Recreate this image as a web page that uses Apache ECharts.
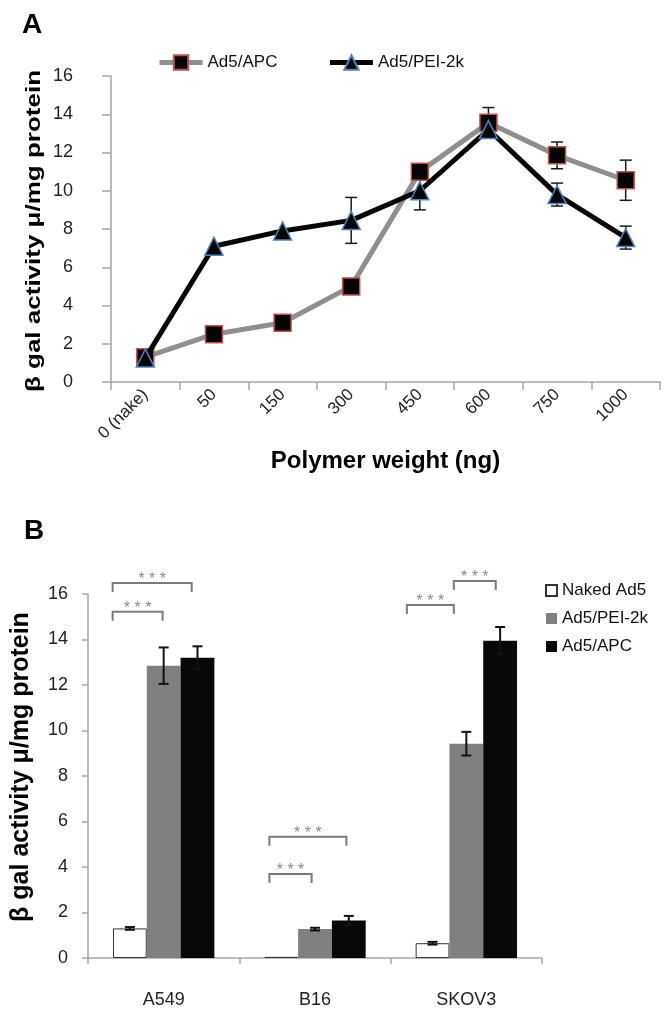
<!DOCTYPE html>
<html>
<head>
<meta charset="utf-8">
<script src="https://cdn.jsdelivr.net/npm/echarts@6/dist/echarts.min.js"></script>
<style>
html,body{margin:0;padding:0;background:#fff;}
#chart{width:668px;height:1009px;}
</style>
</head>
<body>
<div id="chart"></div>
<script>
// ---------- Panel A data ----------
const weightLabels = ['0 (nake)', '50', '150', '300', '450', '600', '750', '1000'];
const apcValues = [1.3, 2.5, 3.1, 5.0, 11.0, 13.55, 11.85, 10.55];
const apcErrors = [0, 0, 0, 0, 0, 0.8, 0.7, 1.05];
const peiValues = [1.25, 7.1, 7.9, 8.45, 10.0, 13.2, 9.8, 7.55];
const peiErrors = [0, 0, 0, 1.2, 1.0, 0, 0.6, 0.6];

// ---------- Panel B data ----------
const cellLines = ['A549', 'B16', 'SKOV3'];
const nakedValues = [1.3, 0.05, 0.65];
const nakedErrors = [0.06, 0, 0.06];
const peiBarValues = [12.85, 1.27, 9.42];
const peiBarErrors = [0.8, 0.06, 0.52];
const apcBarValues = [13.2, 1.65, 13.95];
const apcBarErrors = [0.5, 0.2, 0.6];
const barLegendNames = ['Naked Ad5', 'Ad5/PEI-2k', 'Ad5/APC'];
// significance brackets: [cell line index, start (bar widths from group centre), end, level]
const brackets = [
  [0, -1.51, 0.83, 16.48],
  [0, -1.51, -0.03, 15.22],
  [1, -1.35, 0.93, 5.33],
  [1, -1.35, -0.10, 3.69],
  [2, -1.76, -0.37, 15.52],
  [2, -0.37, 0.87, 16.57]
];
const sigLabel = '* * *';

const yTitle = 'β gal activity μ/mg protein';
const xTitleA = 'Polymer weight (ng)';
const CAT_GAP = 0.33;

const chart = echarts.init(document.getElementById('chart'));

function errRenderA(params, api) {
  const x = api.value(0), v = api.value(1), e = api.value(2);
  if (!e) return null;
  const top = api.coord([x, v + e]);
  const bot = api.coord([x, v - e]);
  const cap = 6;
  const st = {stroke: '#1a1a1a', lineWidth: 1.5};
  return {type: 'group', children: [
    {type: 'line', shape: {x1: top[0], y1: top[1], x2: bot[0], y2: bot[1]}, style: st},
    {type: 'line', shape: {x1: top[0] - cap, y1: top[1], x2: top[0] + cap, y2: top[1]}, style: st},
    {type: 'line', shape: {x1: bot[0] - cap, y1: bot[1], x2: bot[0] + cap, y2: bot[1]}, style: st}
  ]};
}

function errRenderB(params, api) {
  const c = api.value(0), k = api.value(1), v = api.value(2), e = api.value(3);
  if (!e) return null;
  const w = api.size([1, 0])[0] * (1 - CAT_GAP) / 3;
  const cx = api.coord([c, 0])[0] + (k - 1) * w;
  const top = api.coord([c, v + e])[1];
  const bot = api.coord([c, v - e])[1];
  const cap = 5;
  const st = {stroke: '#111', lineWidth: 2};
  return {type: 'group', children: [
    {type: 'line', shape: {x1: cx, y1: top, x2: cx, y2: bot}, style: st},
    {type: 'line', shape: {x1: cx - cap, y1: top, x2: cx + cap, y2: top}, style: st},
    {type: 'line', shape: {x1: cx - cap, y1: bot, x2: cx + cap, y2: bot}, style: st}
  ]};
}

function bracketRender(params, api) {
  const c = api.value(0), a = api.value(1), b = api.value(2), lvl = api.value(3);
  const w = api.size([1, 0])[0] * (1 - CAT_GAP) / 3;
  const p = api.coord([c, lvl]);
  const x1 = p[0] + a * w, x2 = p[0] + b * w, y = p[1];
  const drop = 9;
  return {type: 'group', children: [
    {type: 'polyline', shape: {points: [[x1, y + drop], [x1, y], [x2, y], [x2, y + drop]]},
     style: {stroke: '#7a7a7a', lineWidth: 2, fill: null}},
    {type: 'text', x: (x1 + x2) / 2, y: y + 5,
     style: {text: sigLabel, fill: '#8a8a8a', font: '16px "Liberation Sans", Arial, sans-serif',
             textAlign: 'center', textVerticalAlign: 'bottom'}}
  ]};
}

const axisGray = '#a6a6a6';
const fontFam = '"Liberation Sans", Arial, Helvetica, sans-serif';

const option = {
  backgroundColor: '#fff',
  animation: false,
  textStyle: {fontFamily: fontFam},
  title: [
    {text: 'A', left: 17, top: 6, textStyle: {fontSize: 28, fontWeight: 'bold', color: '#000', fontFamily: fontFam}},
    {text: 'B', left: 19, top: 512, textStyle: {fontSize: 28, fontWeight: 'bold', color: '#000', fontFamily: fontFam}}
  ],
  graphic: [
    {type: 'text', x: 34, y: 231, rotation: Math.PI / 2, scaleX: 1.3,
     style: {text: yTitle, font: 'bold 20px ' + fontFam, fill: '#000', textAlign: 'center', textVerticalAlign: 'middle'}},
    {type: 'text', x: 21, y: 767, rotation: Math.PI / 2,
     style: {text: yTitle, font: 'bold 25px ' + fontFam, fill: '#000', textAlign: 'center', textVerticalAlign: 'middle'}}
  ],
  legend: [
    {
      data: ['Ad5/APC', 'Ad5/PEI-2k'],
      left: 152, top: 49, itemGap: 50, itemWidth: 43, itemHeight: 18,
      lineStyle: {width: 'inherit'},
      textStyle: {fontSize: 17, color: '#111', fontFamily: fontFam},
      selectedMode: false
    },
    {
      data: barLegendNames.map(n => 'B ' + n),
      orient: 'vertical', left: 540, top: 577, itemGap: 11, itemWidth: 11, itemHeight: 11,
      icon: 'rect',
      formatter: n => n.slice(2),
      textStyle: {fontSize: 17, color: '#111', fontFamily: fontFam},
      selectedMode: false
    }
  ],
  grid: [
    {left: 111, top: 76, width: 549, height: 306},
    {left: 88, top: 594, width: 454, height: 369}
  ],
  xAxis: [
    {
      gridIndex: 0, type: 'category', data: weightLabels, boundaryGap: true,
      axisLine: {lineStyle: {color: axisGray, width: 1.5}},
      axisTick: {show: true, length: 8, lineStyle: {color: axisGray, width: 1.5}},
      axisLabel: {rotate: 45, fontSize: 17, color: '#222', margin: 10, interval: 0},
      name: xTitleA, nameLocation: 'middle', nameGap: 67,
      nameTextStyle: {fontSize: 24, fontWeight: 'bold', color: '#000'}
    },
    {
      gridIndex: 1, type: 'category', data: cellLines, boundaryGap: true,
      axisLine: {lineStyle: {color: axisGray, width: 1.5}},
      axisTick: {show: true, length: 6, lineStyle: {color: axisGray, width: 1.5}},
      axisLabel: {fontSize: 18, color: '#222', margin: 33}
    }
  ],
  yAxis: [
    {
      gridIndex: 0, type: 'value', min: 0, max: 16, interval: 2,
      axisLine: {show: true, lineStyle: {color: axisGray, width: 1.5}},
      axisTick: {show: true, length: 9, lineStyle: {color: axisGray, width: 1.5}},
      splitLine: {show: false},
      axisLabel: {fontSize: 18, color: '#222', margin: 38}
    },
    {
      gridIndex: 1, type: 'value', min: 0, max: 16, interval: 2,
      axisLine: {show: true, lineStyle: {color: axisGray, width: 1.5}},
      axisTick: {show: true, length: 6, lineStyle: {color: axisGray, width: 1.5}},
      splitLine: {show: false},
      axisLabel: {fontSize: 18, color: '#222', margin: 20}
    }
  ],
  series: [
    {
      type: 'custom', xAxisIndex: 0, yAxisIndex: 0, z: 1, clip: false,
      data: apcValues.map((v, i) => [i, v, apcErrors[i]]),
      encode: {x: 0, y: 1}, renderItem: errRenderA
    },
    {
      type: 'custom', xAxisIndex: 0, yAxisIndex: 0, z: 1, clip: false,
      data: peiValues.map((v, i) => [i, v, peiErrors[i]]),
      encode: {x: 0, y: 1}, renderItem: errRenderA
    },
    {
      name: 'Ad5/APC', type: 'line', xAxisIndex: 0, yAxisIndex: 0, z: 3,
      data: apcValues,
      lineStyle: {color: '#8f8f8f', width: 5},
      symbol: 'rect', symbolSize: 17,
      itemStyle: {color: '#050505', borderColor: '#c0504d', borderWidth: 1.5}
    },
    {
      name: 'Ad5/PEI-2k', type: 'line', xAxisIndex: 0, yAxisIndex: 0, z: 4,
      data: peiValues,
      lineStyle: {color: '#050505', width: 5},
      symbol: 'triangle', symbolSize: 18,
      itemStyle: {color: '#050505', borderColor: '#4f81bd', borderWidth: 1.5}
    },
    {
      name: 'B ' + barLegendNames[0], type: 'bar', xAxisIndex: 1, yAxisIndex: 1,
      data: nakedValues, barGap: '0%', barCategoryGap: (CAT_GAP * 100) + '%',
      itemStyle: {color: '#ffffff', borderColor: '#333', borderWidth: 1}
    },
    {
      name: 'B ' + barLegendNames[1], type: 'bar', xAxisIndex: 1, yAxisIndex: 1,
      data: peiBarValues, barGap: '0%', barCategoryGap: (CAT_GAP * 100) + '%',
      itemStyle: {color: '#808080'}
    },
    {
      name: 'B ' + barLegendNames[2], type: 'bar', xAxisIndex: 1, yAxisIndex: 1,
      data: apcBarValues, barGap: '0%', barCategoryGap: (CAT_GAP * 100) + '%',
      itemStyle: {color: '#080808'}
    },
    {
      type: 'custom', xAxisIndex: 1, yAxisIndex: 1, z: 5, clip: false,
      data: [].concat(
        nakedValues.map((v, i) => [i, 0, v, nakedErrors[i]]),
        peiBarValues.map((v, i) => [i, 1, v, peiBarErrors[i]]),
        apcBarValues.map((v, i) => [i, 2, v, apcBarErrors[i]])
      ),
      encode: {x: 0, y: 2}, renderItem: errRenderB
    },
    {
      type: 'custom', xAxisIndex: 1, yAxisIndex: 1, z: 5, clip: false,
      data: brackets, encode: {x: 0, y: 3}, renderItem: bracketRender
    }
  ]
};
chart.setOption(option);
</script>
</body>
</html>
